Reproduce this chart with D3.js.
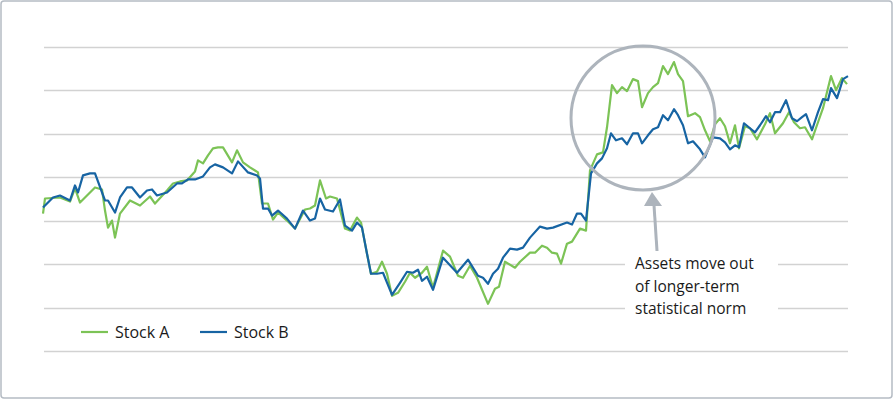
<!DOCTYPE html>
<html>
<head>
<meta charset="utf-8">
<script src="https://cdn.jsdelivr.net/npm/d3@7"></script>
<style>
  body { margin: 0; background: #fff; }
  text { font-family: "Open Sans", sans-serif; fill: #1a1a1a; }
</style>
</head>
<body>
<script>
// day offsets and index levels
const daysA = [0,2,17,27,32,37,47,52,59,62,65,69,72,77,87,97,107,112,124,130,137,144,152,155,160,165,170,175,180,189,194,200,207,215,219,225,230,235,244,252,262,267,272,277,283,287,294,302,307,314,318,324,328,334,339,344,349,355,362,367,372,379,384,390,400,407,415,420,427,434,445,452,456,462,472,477,487,492,499,504,509,514,518,524,529,537,543,547,554,560,564,569,574,579,584,590,595,599,605,610,615,620,625,631,635,640,645,652,657,662,667,672,677,682,687,692,696,702,707,714,722,727,732,740,746,751,757,762,769,775,780,788,793,799,804];
const stockA = [137,152,153,149,162,148,158,163,161,140,123,130,113,137,150,145,154,147,160,167,169,170,179,190,187,195,202,203,203,188,200,188,183,178,147,147,131,138,130,122,141,142,145,170,152,154,152,122,120,133,128,97,77,79,89,77,55,58,69,78,73,78,84,63,100,94,75,73,85,73,47,62,64,89,83,89,98,98,105,103,98,97,87,107,109,122,120,180,196,198,223,265,257,263,259,271,269,243,257,263,267,284,276,288,276,269,234,237,233,220,209,226,232,224,207,225,202,224,222,211,226,237,217,227,238,228,222,223,211,228,242,274,260,272,266];

const daysB = [0,10,17,27,32,35,40,47,52,62,65,72,77,84,89,97,104,109,114,124,134,139,145,152,160,167,172,180,189,195,205,214,217,220,225,229,235,244,252,260,267,272,277,282,290,297,302,309,314,319,324,328,334,340,349,357,364,370,375,379,384,390,400,414,425,435,440,445,450,455,460,467,474,480,487,497,504,510,524,529,534,538,543,548,554,559,564,568,573,579,584,590,595,599,605,610,615,620,625,631,635,640,645,650,657,662,670,677,682,687,692,696,701,707,712,717,723,727,732,737,743,749,754,759,763,769,775,780,785,788,794,800,805];
const stockB = [143,153,155,150,165,158,175,177,177,150,150,138,153,163,163,153,160,161,155,158,167,167,171,171,174,183,186,183,177,189,178,175,172,142,142,135,140,132,122,140,130,132,152,141,139,151,125,120,128,123,97,77,77,78,56,68,79,78,81,70,74,61,93,78,91,75,73,67,77,82,93,102,101,103,113,124,122,123,128,126,137,137,130,177,187,192,202,217,210,212,206,217,217,207,215,221,223,235,230,241,235,225,207,209,201,193,213,212,208,201,205,203,227,222,218,225,234,228,238,238,250,232,229,233,236,220,238,251,250,262,252,271,274];

const seriesNames = ["Stock A", "Stock B"];
const colors = ["#7cc356", "#1764a3"];
const note = ["Assets move out", "of longer-term", "statistical norm"];

const W = 893, H = 400;
const svg = d3.select("body").append("svg").attr("width", W).attr("height", H);

svg.append("rect")
  .attr("x", 1).attr("y", 1).attr("width", W - 2).attr("height", H - 3)
  .attr("rx", 3).attr("fill", "#fff").attr("stroke", "#b5bcc4").attr("stroke-width", 1.5);

const x = d3.scaleLinear().domain([0, 805]).range([43, 848]);
const y = d3.scaleLinear().domain([0, 303]).range([351, 47]);

// gridlines
const gridVals = d3.range(8).map(i => i * 303 / 7);
svg.append("g").selectAll("line").data(gridVals).join("line")
  .attr("x1", 44).attr("x2", 848)
  .attr("y1", d => Math.round(y(d)) + 0.5).attr("y2", d => Math.round(y(d)) + 0.5)
  .attr("stroke", "#d2d2d2").attr("stroke-width", 1.5);

const line = d3.line().x(d => x(d[0])).y(d => y(d[1]));
const data = [d3.zip(daysA, stockA), d3.zip(daysB, stockB)];

data.forEach((pts, i) => {
  svg.append("path").datum(pts)
    .attr("d", line)
    .attr("fill", "none")
    .attr("stroke", colors[i])
    .attr("stroke-width", 2.2)
    .attr("stroke-linejoin", "round");
});

// highlight circle + arrow
svg.append("circle")
  .attr("cx", 643).attr("cy", 118).attr("r", 72)
  .attr("fill", "none").attr("stroke", "#adb4bc").attr("stroke-width", 3);

svg.append("line")
  .attr("x1", 657).attr("y1", 251).attr("x2", 654).attr("y2", 205)
  .attr("stroke", "#adb4bc").attr("stroke-width", 3);
svg.append("path")
  .attr("d", "M652,192 L662,206 L644,206 Z")
  .attr("fill", "#adb4bc");

// annotation with white box behind
svg.append("rect")
  .attr("x", 625).attr("y", 252).attr("width", 153).attr("height", 66)
  .attr("fill", "#fff");
svg.append("g").selectAll("text").data(note).join("text")
  .attr("x", 635).attr("y", (d, i) => 269 + i * 22.5)
  .attr("font-size", 15.5)
  .text(d => d);

// legend
svg.append("rect").attr("x", 70).attr("y", 318).attr("width", 240).attr("height", 28).attr("fill", "#fff");
const leg = svg.append("g").selectAll("g").data(seriesNames).join("g")
  .attr("transform", (d, i) => `translate(${81 + i * 119},332)`);
leg.append("line").attr("x1", 0).attr("x2", 27)
  .attr("stroke", (d, i) => colors[i]).attr("stroke-width", 2.2);
leg.append("text").attr("x", 34).attr("y", 6).attr("font-size", 16).text(d => d);
</script>
</body>
</html>
